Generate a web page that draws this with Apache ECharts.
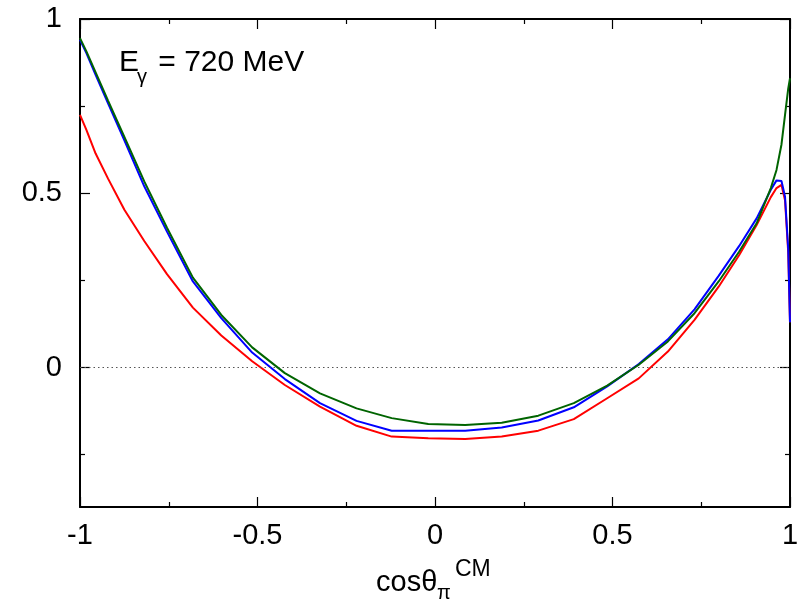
<!DOCTYPE html>
<html>
<head>
<meta charset="utf-8">
<script src="https://cdn.jsdelivr.net/npm/echarts@6/dist/echarts.min.js"></script>
<style>
html,body{margin:0;padding:0;background:#fff;}
#chart{width:808px;height:604px;}
</style>
</head>
<body>
<div id="chart"></div>
<script>
// cos(theta_pi^CM) sample points
const xs = [-1, -0.982, -0.956, -0.921, -0.875, -0.819, -0.755, -0.682, -0.602, -0.515,
  -0.423, -0.324, -0.221, -0.122, -0.019, 0.085, 0.188, 0.291, 0.391, 0.485,
  0.574, 0.656, 0.731, 0.799, 0.857, 0.906, 0.946, 0.962, 0.976, 0.986, 0.995, 1];

const greenVals = [0.945, 0.907, 0.847, 0.766, 0.662, 0.534, 0.401, 0.258, 0.151, 0.058,
  -0.016, -0.074, -0.117, -0.145, -0.162, -0.165, -0.158, -0.138, -0.102, -0.052,
  0.008, 0.075, 0.156, 0.247, 0.333, 0.414, 0.515, 0.567, 0.640, 0.725, 0.800, 0.830];

const blueVals = [0.940, 0.902, 0.840, 0.758, 0.652, 0.520, 0.390, 0.247, 0.142, 0.043,
  -0.033, -0.102, -0.153, -0.181, -0.181, -0.181, -0.172, -0.152, -0.114, -0.054,
  0.010, 0.081, 0.167, 0.263, 0.349, 0.428, 0.510, 0.537, 0.535, 0.490, 0.340, 0.130];

const redVals = [0.725, 0.682, 0.614, 0.542, 0.453, 0.363, 0.268, 0.172, 0.092, 0.018,
  -0.050, -0.112, -0.167, -0.198, -0.203, -0.205, -0.198, -0.181, -0.148, -0.088,
  -0.031, 0.046, 0.137, 0.232, 0.323, 0.409, 0.489, 0.515, 0.524, 0.480, 0.330, 0.130];

const xMajor = [-1, -0.5, 0, 0.5, 1];
const xMinor = [-0.75, -0.25, 0.25, 0.75];
const yMajor = [0, 0.5, 1];
const yMinor = [-0.25, 0.25, 0.75];
const zeroLevel = [0];

const FONT = '"Liberation Sans", Arial, Helvetica, sans-serif';

function pairs(vals) { return xs.map((x, i) => [x, vals[i]]); }

function xAx(pos, ticks, len, labels, line) {
  return {
    type: 'value', min: -1, max: 1, position: pos, gridIndex: 0,
    axisLine: { show: line, onZero: false, lineStyle: { color: '#000', width: 2 } },
    axisTick: { show: true, inside: true, length: len, customValues: ticks, lineStyle: { color: '#000', width: 1.2 } },
    axisLabel: labels ? { show: true, customValues: xMajor, fontSize: 29, fontFamily: FONT, color: '#000', margin: 14,
      formatter: v => String(v) } : { show: false },
    splitLine: { show: false }
  };
}
function yAx(pos, ticks, len, labels, line) {
  return {
    type: 'value', min: -0.4, max: 1, position: pos, gridIndex: 0,
    axisLine: { show: line, onZero: false, lineStyle: { color: '#000', width: 2 } },
    axisTick: { show: true, inside: true, length: len, customValues: ticks, lineStyle: { color: '#000', width: 1.2 } },
    axisLabel: labels ? { show: true, customValues: yMajor, fontSize: 29, fontFamily: FONT, color: '#000', margin: 18,
      formatter: v => String(v) } : { show: false },
    splitLine: { show: false }
  };
}

const chart = echarts.init(document.getElementById('chart'), null, { renderer: 'canvas' });
chart.setOption({
  animation: false,
  backgroundColor: '#fff',
  grid: { left: 80, right: 18, top: 19, bottom: 97, containLabel: false },
  xAxis: [
    xAx('bottom', xMajor, 10, true, true),
    xAx('top', xMajor, 10, false, true),
    xAx('bottom', xMinor, 5, false, false),
    xAx('top', xMinor, 5, false, false)
  ],
  yAxis: [
    yAx('left', yMajor, 10, true, true),
    yAx('right', yMajor, 10, false, true),
    yAx('left', yMinor, 5, false, false),
    yAx('right', yMinor, 5, false, false)
  ],
  series: [
    {
      name: 'red', type: 'line', xAxisIndex: 0, yAxisIndex: 0, data: pairs(redVals),
      showSymbol: false, symbol: 'none', lineStyle: { color: '#ff0000', width: 2 }, z: 3,
      markLine: {
        silent: true, symbol: ['none', 'none'], label: { show: false },
        lineStyle: { color: '#555', width: 1, type: [1.5, 3] },
        data: zeroLevel.map(v => ({ yAxis: v }))
      }
    },
    {
      name: 'blue', type: 'line', xAxisIndex: 0, yAxisIndex: 0, data: pairs(blueVals),
      showSymbol: false, symbol: 'none', lineStyle: { color: '#0000ff', width: 2 }, z: 4
    },
    {
      name: 'green', type: 'line', xAxisIndex: 0, yAxisIndex: 0, data: pairs(greenVals),
      showSymbol: false, symbol: 'none', lineStyle: { color: '#006400', width: 2 }, z: 5
    }
  ],
  graphic: [
    { type: 'text', left: 119, top: 48, style: { text: 'E', font: '30px ' + FONT, fill: '#000' } },
    { type: 'text', left: 137, top: 67, style: { text: 'γ', font: '20px ' + FONT, fill: '#000' } },
    { type: 'text', left: 150, top: 48, style: { text: ' = 720 MeV', font: '30px ' + FONT, fill: '#000' } },
    { type: 'text', left: 376, top: 568, style: { text: 'cosθ', font: '29px ' + FONT, fill: '#000' } },
    { type: 'text', left: 437, top: 583, style: { text: 'π', font: '20px ' + FONT, fill: '#000' } },
    { type: 'text', left: 455, top: 558, style: { text: 'CM', font: '23px ' + FONT, fill: '#000' } }
  ]
});
</script>
</body>
</html>
